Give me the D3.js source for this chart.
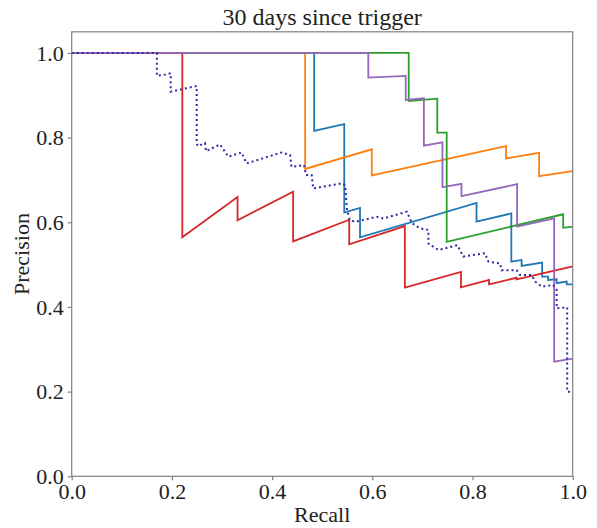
<!DOCTYPE html>
<html>
<head>
<meta charset="utf-8">
<script src="https://cdn.jsdelivr.net/npm/d3@7"></script>
<style>
  html, body { margin: 0; padding: 0; background: #fff; }
  svg { display: block; }
  text { font-family: "Liberation Serif", "DejaVu Serif", serif; fill: #222; }
</style>
</head>
<body>
<svg id="chart" width="597" height="528"></svg>
<script>
// Precision-recall curves, 30 days since trigger
const title = "30 days since trigger";
const xTicks = [0.0, 0.2, 0.4, 0.6, 0.8, 1.0];
const yTicks = [0.0, 0.2, 0.4, 0.6, 0.8, 1.0];

const blueRecall    = [0, 0.484, 0.484, 0.544, 0.544, 0.5755, 0.5755, 0.808, 0.808, 0.8775, 0.8775, 0.898, 0.898, 0.939, 0.939, 0.951, 0.951, 0.968, 0.968, 0.988, 0.988, 1.0];
const bluePrecision = [1, 1, 0.816, 0.832, 0.623, 0.634, 0.5646, 0.6456, 0.6015, 0.621, 0.507, 0.511, 0.497, 0.505, 0.4716, 0.4716, 0.4637, 0.4654, 0.456, 0.460, 0.4536, 0.4536];

const orangeRecall    = [0, 0.466, 0.466, 0.599, 0.599, 0.867, 0.867, 0.933, 0.933, 1.0];
const orangePrecision = [1, 1, 0.726, 0.7725, 0.711, 0.780, 0.751, 0.764, 0.709, 0.721];

const greenRecall    = [0, 0.6727, 0.6727, 0.7297, 0.7297, 0.7485, 0.7485, 0.981, 0.981, 1.0];
const greenPrecision = [1, 1, 0.8866, 0.892, 0.8117, 0.8117, 0.554, 0.619, 0.587, 0.590];

const redRecall    = [0, 0.2208, 0.2208, 0.331, 0.331, 0.442, 0.442, 0.554, 0.554, 0.665, 0.665, 0.777, 0.777, 0.833, 0.833, 0.888, 0.888, 1.0];
const redPrecision = [1, 1, 0.565, 0.660, 0.605, 0.672, 0.555, 0.606, 0.548, 0.591, 0.446, 0.483, 0.4465, 0.464, 0.4536, 0.469, 0.465, 0.496];

const purpleRecall    = [0, 0.592, 0.592, 0.6667, 0.6667, 0.703, 0.703, 0.740, 0.740, 0.778, 0.778, 0.889, 0.889, 0.963, 0.963, 1.0];
const purplePrecision = [1, 1, 0.9417, 0.946, 0.889, 0.893, 0.781, 0.789, 0.683, 0.691, 0.662, 0.690, 0.590, 0.6095, 0.271, 0.278];

const dottedRecall = [0, 0.170, 0.170, 0.183, 0.1976, 0.1976, 0.2495, 0.2495, 0.2515, 0.266,
  0.268, 0.296, 0.3126, 0.339, 0.349, 0.419, 0.436, 0.4387, 0.4637, 0.4677,
  0.479, 0.482, 0.539, 0.546, 0.549, 0.555, 0.566, 0.609, 0.622, 0.669,
  0.679, 0.695, 0.712, 0.712, 0.732, 0.770, 0.7817, 0.825, 0.8316, 0.855,
  0.858, 0.888, 0.895, 0.918, 0.925, 0.938, 0.961, 0.968, 0.968, 0.989,
  0.989, 1.0];
const dottedPrecision = [1, 1, 0.946, 0.948, 0.952, 0.9086, 0.922, 0.787, 0.780, 0.787,
  0.768, 0.784, 0.755, 0.765, 0.739, 0.765, 0.759, 0.731, 0.735, 0.712,
  0.712, 0.680, 0.692, 0.688, 0.633, 0.6055, 0.601, 0.613, 0.609, 0.625,
  0.598, 0.586, 0.582, 0.550, 0.5346, 0.546, 0.519, 0.527, 0.507, 0.503,
  0.487, 0.487, 0.4755, 0.4755, 0.46, 0.448, 0.452, 0.44, 0.397, 0.399,
  0.2, 0.2];

const series = [
  { r: blueRecall,   p: bluePrecision,   color: "#1f77b4" },
  { r: orangeRecall, p: orangePrecision, color: "#ff7f0e" },
  { r: greenRecall,  p: greenPrecision,  color: "#2ca02c" },
  { r: redRecall,    p: redPrecision,    color: "#d62728" },
  { r: purpleRecall, p: purplePrecision, color: "#9467bd" },
  { r: dottedRecall, p: dottedPrecision, color: "#2b2ba6", dotted: true }
];

const svg = d3.select("#chart");
const plotLeft = 71.7, plotRight = 572.7, plotTop = 31.8, plotBottom = 476.3;

const x = d3.scaleLinear().domain([0, 1]).range([plotLeft, plotRight]);
const y = d3.scaleLinear().domain([0, 1.05]).range([plotBottom, plotTop]);
const frameColor = "#808080";

const line = d3.line().x(d => x(d[0])).y(d => y(d[1]));

const plot = svg.append("g");
series.forEach(s => {
  const pts = s.r.map((v, i) => [v, s.p[i]]);
  plot.append("path")
    .datum(pts)
    .attr("d", line)
    .attr("fill", "none")
    .attr("stroke", s.color)
    .attr("stroke-width", s.dotted ? 2 : 1.8)
    .attr("stroke-linejoin", "miter")
    .attr("stroke-dasharray", s.dotted ? "2,3" : null);
});

// frame
svg.append("rect")
  .attr("x", plotLeft).attr("y", plotTop)
  .attr("width", plotRight - plotLeft).attr("height", plotBottom - plotTop)
  .attr("fill", "none").attr("stroke", frameColor).attr("stroke-width", 1.2);

// axes
const xAxis = d3.axisBottom(x).tickValues(xTicks).tickFormat(d3.format(".1f")).tickSize(4).tickPadding(3);
const yAxis = d3.axisLeft(y).tickValues(yTicks).tickFormat(d3.format(".1f")).tickSize(4).tickPadding(4);

const gx = svg.append("g").attr("transform", `translate(0,${plotBottom})`).call(xAxis);
const gy = svg.append("g").attr("transform", `translate(${plotLeft},0)`).call(yAxis);
[gx, gy].forEach(g => {
  g.select(".domain").remove();
  g.selectAll(".tick line").attr("stroke", frameColor).attr("stroke-width", 1.2);
  g.selectAll(".tick text")
    .style("font-family", '"Liberation Serif", "DejaVu Serif", serif')
    .style("font-size", "22px").attr("fill", "#222");
});

svg.append("text")
  .attr("x", (plotLeft + plotRight) / 2).attr("y", 25)
  .attr("text-anchor", "middle").style("font-size", "24px")
  .text(title);

svg.append("text")
  .attr("x", (plotLeft + plotRight) / 2).attr("y", 522)
  .attr("text-anchor", "middle").style("font-size", "22px")
  .text("Recall");

svg.append("text")
  .attr("transform", `translate(29,${(plotTop + plotBottom) / 2}) rotate(-90)`)
  .attr("text-anchor", "middle").style("font-size", "22px")
  .text("Precision");
</script>
</body>
</html>
